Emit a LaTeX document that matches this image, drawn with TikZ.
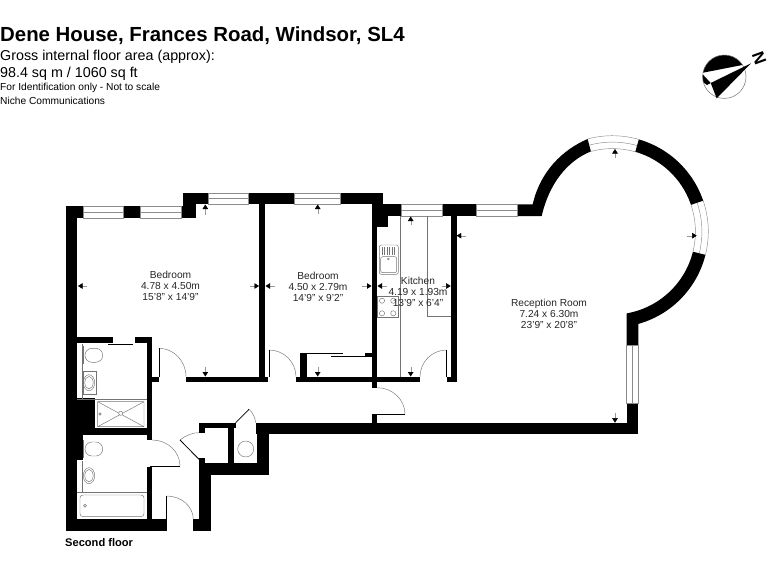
\documentclass[tikz,border=0pt]{standalone}
\usepackage{fontspec}
\setmainfont{Liberation Sans}
\usetikzlibrary{arrows.meta,calc}

\begin{document}
\begin{tikzpicture}[x=1pt,y=-1pt,
  wall/.style={fill=black},
  thinline/.style={draw=black!55,line width=.45pt},
  windowline/.style={draw=black!45,line width=.45pt},
  leaf/.style={draw=black,line width=.8pt},
  dimarrow/.style={draw=black!40,line width=.4pt,-{Triangle[black,length=4.5pt,width=5.5pt]}},
  roomlabel/.style={font=\fontsize{10.2}{11}\selectfont,align=center,text=black!85},
  headline/.style={anchor=west,inner sep=0pt}]
\useasboundingbox (0,0) rectangle (768,576);

\node[headline,font=\bfseries\fontsize{20.4}{22}\selectfont] (title) at (0,36) {Dene House, Frances Road, Windsor, SL4};
\node[headline,font=\fontsize{14.3}{16}\selectfont] (area) at (0,57) {Gross internal floor area (approx):};
\node[headline,font=\fontsize{14.3}{16}\selectfont] (size) at (0,74) {98.4 sq m / 1060 sq ft};
\node[headline,font=\fontsize{10.2}{12}\selectfont] (note) at (0,88) {For Identification only - Not to scale};
\node[headline,font=\fontsize{10.2}{12}\selectfont] (firm) at (0,101) {Niche Communications};
\node[headline,font=\bfseries\fontsize{11.1}{12}\selectfont] (floor) at (65,543) {Second floor};

\foreach \xa/\ya/\xb/\yb in {65.7/206/77.3/531, 65.7/206/83.3/217.7, 123/206/140/218, 181/206/196/218,
  183/193/196/218, 183/193/208/204.3, 248/193/294/204.3, 259.3/193/265/382, 340/193/383.3/204.3,
  371.7/193/377.3/387.7, 371.7/204.3/401.3/216, 371.7/216/388.3/227.3, 442/204.3/476.7/216,
  450.7/216/456.7/381.7, 446.7/376.7/456.7/381.7, 296/376.7/420/382, 186/376.7/268.3/382,
  146.7/337.3/152.3/440, 151/376.7/159/382, 77/337.3/113/343.3, 135/337.3/152.3/343.3,
  65.7/398/95/428, 65.7/428/152.3/435, 65.7/435/83.3/460, 146.7/466.7/152.3/520, 65.7/519.3/166.7/531,
  193.3/519.3/210.7/531, 199/458.3/205/475, 199/463.3/269/475, 199/475/210.7/531,
  199/422.7/235.7/428.3, 199/422.7/205/432.7, 228.3/428/234.3/463.3, 257.3/428/269/475,
  255.7/422.7/638.3/434, 626.7/403.3/638.3/434, 371.7/414.3/377.3/423, 300/353.3/306.7/382,
  365/353.3/371.7/357}
  \fill[wall] (\xa,\ya) rectangle (\xb,\yb);

\fill[wall] (517.3,204.3) -- (532.7,204.3) .. controls (540,172) and (562,150) .. (587.6,139)
  -- (590.9,151.4) .. controls (567,161) and (549,184) .. (541.7,216) -- (517.3,216) -- cycle;
\fill[wall] plot[domain=-74:-18.8,samples=30] ({612.4+95.9*cos(\x)},{231.6+95.9*sin(\x)})
  -- plot[domain=-18.8:-74,samples=30] ({612.4+83*cos(\x)},{231.6+83*sin(\x)}) -- cycle;
\fill[wall] plot[domain=14:74.3,samples=30] ({612.4+95.9*cos(\x)},{231.6+95.9*sin(\x)})
  -- (638.3,345) -- (626.7,345) -- (626.7,314)
  -- plot[domain=80:14,samples=30] ({612.4+83*cos(\x)},{231.6+83*sin(\x)}) -- cycle;

\foreach \xa/\ya/\xb/\yb in {83.3/206/123/218, 140/206/181/218, 208/193/248/204.3, 294/193/340/204.3,
  401.3/204.3/442/216, 476.7/204.3/517.3/216}
  \draw[windowline] (\xa,\ya) rectangle (\xb,\yb) (\xa,{(\ya+\yb)/2}) -- (\xb,{(\ya+\yb)/2});
\draw[windowline] (626.7,345) rectangle (638.3,403.3) (632.5,345) -- (632.5,403.3);
\foreach \ra in {83,89.5,95.9}{
  \draw[windowline] plot[domain=-105:-74,samples=16] ({612.4+\ra*cos(\x)},{231.6+\ra*sin(\x)});
  \draw[windowline] plot[domain=-18.8:14,samples=16] ({612.4+\ra*cos(\x)},{231.6+\ra*sin(\x)});
}

\foreach \xa/\ya/\xb/\yb/\xc/\yc in {159/348.3/186/376.7/186/348.3, 269/350/296/376.7/296/350,
  446.7/350/420/376.7/420/350, 405/414.3/377.3/387.7/405/387.7, 166.7/496/193.3/519.3/193.3/496,
  180/466/152.3/440/180/440, 180/440/199/432.7/189/432, 249/409.3/255.7/422.7/255/414}
  \draw[thinline] (\xa,\ya) .. controls ($(\xa,\ya)!.55!(\xc,\yc)$) and ($(\xb,\yb)!.55!(\xc,\yc)$) .. (\xb,\yb);
\foreach \xa/\ya/\xb/\yb in {159/348.3/159/376.7, 269/350/269/376.7, 446.7/350/446.7/376.7,
  377.3/414.3/405/414.3, 166.7/496/166.7/519.3, 150/466/180/466, 199/459.3/180/440,
  235.7/422.7/249/409.3, 108/344.7/133/344.7, 306/353.3/343/353.3, 331/356.7/368/356.7}
  \draw[leaf] (\xa,\ya) -- (\xb,\yb);

\foreach \xa/\ya/\xb/\yb in {87/286/78/286, 249.5/286/259/286, 205.3/214.7/205.3/204.5, 205.3/367/205.3/376.5,
  275/286/265.5/286, 362.3/286/371.5/286, 317.7/214/317.7/204.5, 317.7/367/317.7/376.5,
  410.7/225/410.7/216.5, 410.7/366.7/410.7/376.5, 386.7/286/377.5/286, 441.7/286/450.7/286,
  466/235.7/456.7/235.7, 687.3/235.7/696.7/235.7, 615/158.3/615/149, 615/413.3/615/422.7}
  \draw[dimarrow] (\xa,\ya) -- (\xb,\yb);

% kitchen
\draw[thinline] (400.7,216) -- (400.7,376.7) (427.7,216) -- (427.7,316.7) -- (450.7,316.7);
\draw[thinline,rounded corners=2pt] (379.3,245) rectangle (398.3,274.3) (380.7,256.7) rectangle (396.7,272.7);
\foreach \xa in {382,384.5,387,389.5,392,394.5}
  \draw[thinline] (\xa,247) -- (\xa,254.5);
\draw[thinline] (388.3,259) circle (.9);
\draw[thinline] (377.3,296) rectangle (398.3,317.7);
\foreach \xa/\ya in {382/300.7,393.3/300.7,382/313.3,393.3/313.3}
  \draw[thinline] (\xa,\ya) circle (2.6);

% bathrooms
\draw[thinline] (82.3,344) -- (82.3,399.3) (77.3,399.3) -- (146.7,399.3);
\draw[thinline] (83.3,371.7) rectangle (96.7,394.3);
\draw[thinline] (97.7,401.7) rectangle (144,426.7) (97.7,401.7) -- (144,426.7) (97.7,426.7) -- (144,401.7);
\draw[thinline,fill=white] (120.7,413.3) circle (2);
\draw[thinline] (100,414) circle (1.2);
\draw[thinline] (82.7,461) -- (82.7,492.3) (77.3,492.3) -- (146.7,492.3);
\draw[thinline,rounded corners=3pt] (80,495) rectangle (144,516.7);
\draw[thinline] (85,505.7) circle (1.5);
\draw[thinline] (245.7,449) circle (8);
\foreach \ya in {355.3,449}{
  \draw[thinline] (83.5,\ya-9) -- (83.5,\ya+9);
  \draw[thinline,rounded corners=6.9pt] (85,\ya-7) rectangle (102.7,\ya+7);
}
\foreach \ya in {382.7,475.7}{
  \draw[thinline] (89,\ya) ellipse (5.7 and 8);
  \draw[thinline] (89,\ya) ellipse (4.2 and 6.2);
}

\node[roomlabel] (bedroomone) at (170.5,285.5) {Bedroom\\4.78 x 4.50m\\15'8'' x 14'9''};
\node[roomlabel] (bedroomtwo) at (318,287) {Bedroom\\4.50 x 2.79m\\14'9'' x 9'2''};
\node[roomlabel] (kitchen) at (418,292) {Kitchen\\4.19 x 1.93m\\13'9'' x 6'4''};
\node[roomlabel] (reception) at (549,314) {Reception Room\\7.24 x 6.30m\\23'9'' x 20'8''};

% compass
\begin{scope}
\clip (724.3,76.7) circle (21.7);
\fill[black] (701.5,73) -- (751,63.3) -- (740,50) -- (700,50) -- cycle;
\fill[black] (701.5,73) -- (710.7,83) -- (707,85) -- (700,80) -- cycle;
\end{scope}
\draw[draw=black!55,line width=.5pt] (724.3,76.7) circle (21.7);
\fill[black] (751,63.3) -- (710.7,83) -- (716.7,98.3) -- cycle;
\node[rotate=-70,font=\bfseries\fontsize{17}{17}\selectfont,inner sep=0pt] (north) at (759.3,58.3) {N};
\end{tikzpicture}
\end{document}
